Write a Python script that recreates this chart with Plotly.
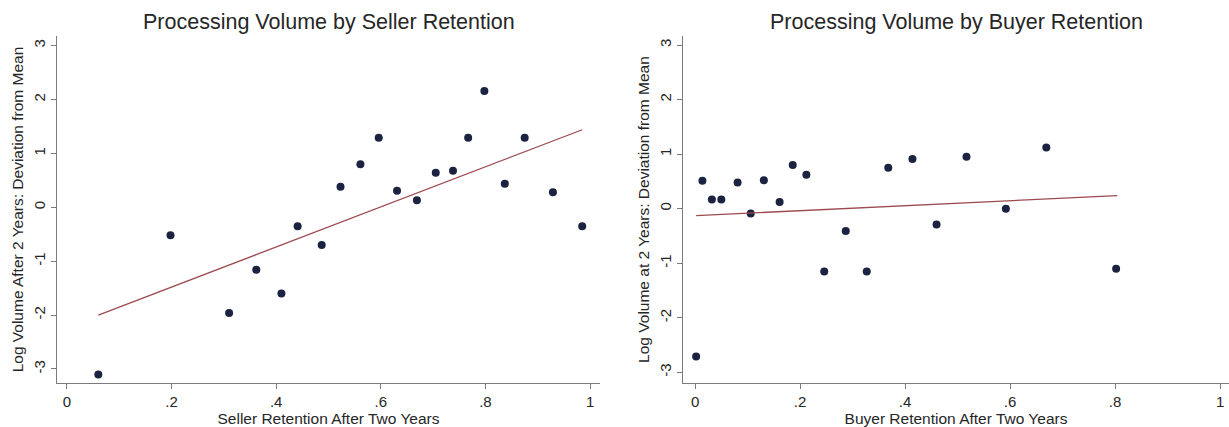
import plotly.graph_objects as go

# ---- data ----
seller_retention = [0.060, 0.198, 0.310, 0.362, 0.410, 0.441, 0.487, 0.523, 0.561, 0.596,
                    0.631, 0.669, 0.705, 0.738, 0.767, 0.798, 0.837, 0.875, 0.929, 0.985]
seller_volume = [-3.10, -0.52, -1.96, -1.16, -1.60, -0.35, -0.70, 0.38, 0.80, 1.29,
                 0.31, 0.13, 0.64, 0.68, 1.29, 2.16, 0.44, 1.29, 0.28, -0.35]
seller_fit_x = [0.060, 0.985]
seller_fit_y = [-2.00, 1.44]

buyer_retention = [0.002, 0.014, 0.032, 0.050, 0.081, 0.106, 0.131, 0.161, 0.186, 0.212,
                   0.246, 0.287, 0.327, 0.368, 0.414, 0.460, 0.517, 0.592, 0.669, 0.802]
buyer_volume = [-2.71, 0.51, 0.17, 0.17, 0.48, -0.09, 0.52, 0.12, 0.80, 0.62,
                -1.15, -0.41, -1.15, 0.75, 0.91, -0.29, 0.95, 0.00, 1.12, -1.10]
buyer_fit_x = [0.002, 0.804]
buyer_fit_y = [-0.128, 0.238]

x_tickvals = [0, 0.2, 0.4, 0.6, 0.8, 1]
x_ticktext = ["0", ".2", ".4", ".6", ".8", "1"]
y_tickvals = [-3, -2, -1, 0, 1, 2, 3]
y_ticktext = ["-3", "-2", "-1", "0", "1", "2", "3"]

titles = ["Processing Volume by Seller Retention", "Processing Volume by Buyer Retention"]
x_titles = ["Seller Retention After Two Years", "Buyer Retention After Two Years"]
y_titles = ["Log Volume After 2 Years: Deviation from Mean",
            "Log Volume at 2 Years: Deviation from Mean"]

# ---- styling ----
W, H = 1229, 427
FONT = "Liberation Sans, Arial, Helvetica, sans-serif"
DOT = "#1b2340"
FIT = "#9c4a50"
AX = "#7a7a7a"
TXT = "#262626"

fig = go.Figure()

fig.add_trace(go.Scatter(x=seller_retention, y=seller_volume, mode="markers",
                         marker=dict(size=8, color=DOT), xaxis="x", yaxis="y",
                         showlegend=False))
fig.add_trace(go.Scatter(x=seller_fit_x, y=seller_fit_y, mode="lines",
                         line=dict(color=FIT, width=1.3), xaxis="x", yaxis="y",
                         showlegend=False))
fig.add_trace(go.Scatter(x=buyer_retention, y=buyer_volume, mode="markers",
                         marker=dict(size=8, color=DOT), xaxis="x2", yaxis="y2",
                         showlegend=False))
fig.add_trace(go.Scatter(x=buyer_fit_x, y=buyer_fit_y, mode="lines",
                         line=dict(color=FIT, width=1.3), xaxis="x2", yaxis="y2",
                         showlegend=False))

y_dom = [(H - 383) / H, (H - 36) / H]
x1_dom = [57 / W, 600 / W]
x2_dom = [683 / W, 1.0]

def xax(dom, rng, title, anchor):
    return dict(domain=dom, range=rng, anchor=anchor, showgrid=False, zeroline=False,
                showline=True, linecolor=AX, linewidth=1, ticks="outside", ticklen=5,
                tickcolor=AX, tickwidth=1, tickvals=x_tickvals, ticktext=x_ticktext,
                tickfont=dict(family=FONT, size=15, color=TXT),
                title=dict(text=title, font=dict(family=FONT, size=15.5, color=TXT), standoff=1),
                automargin=False, fixedrange=True)

def yax(dom, rng, title, anchor):
    return dict(domain=dom, range=rng, anchor=anchor, showgrid=False, zeroline=False,
                showline=True, linecolor=AX, linewidth=1, ticks="outside", ticklen=5,
                tickcolor=AX, tickwidth=1, tickvals=y_tickvals, ticktext=y_ticktext,
                tickangle=-90,
                tickfont=dict(family=FONT, size=15, color=TXT),
                title=dict(text=title, font=dict(family=FONT, size=15.5, color=TXT), standoff=3),
                automargin=False, fixedrange=True)

fig.update_layout(
    width=W, height=H,
    margin=dict(l=0, r=0, t=0, b=0),
    paper_bgcolor="white", plot_bgcolor="white",
    xaxis=xax(x1_dom, [-0.019, 1.019], x_titles[0], "y"),
    yaxis=yax(y_dom, [-3.26, 3.18], y_titles[0], "x"),
    xaxis2=xax(x2_dom, [-0.023, 1.017], x_titles[1], "y2"),
    yaxis2=yax(y_dom, [-3.196, 3.165], y_titles[1], "x2"),
    annotations=[
        dict(text=titles[0], x=(x1_dom[0] + x1_dom[1]) / 2, y=1 - 22 / H,
             xref="paper", yref="paper", xanchor="center", yanchor="middle",
             showarrow=False, font=dict(family=FONT, size=21.5, color=TXT)),
        dict(text=titles[1], x=(x2_dom[0] + x2_dom[1]) / 2, y=1 - 22 / H,
             xref="paper", yref="paper", xanchor="center", yanchor="middle",
             showarrow=False, font=dict(family=FONT, size=21.5, color=TXT)),
    ],
)

fig.write_html("out.html")
